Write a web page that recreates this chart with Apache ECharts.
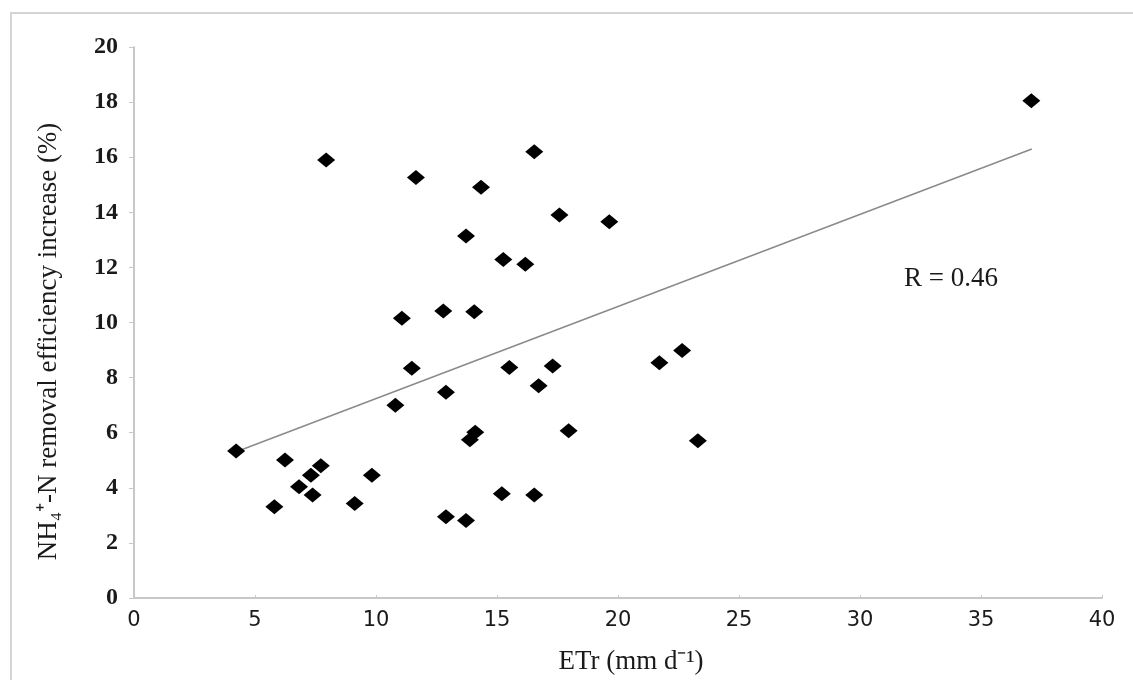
<!DOCTYPE html>
<html>
<head>
<meta charset="utf-8">
<script src="https://cdn.jsdelivr.net/npm/echarts@6/dist/echarts.min.js"></script>
<style>
html,body{margin:0;padding:0;background:#fff;}
#chart{width:1133px;height:680px;}
</style>
</head>
<body>
<div id="chart"></div>
<script>
// ETr (mm d-1) values
const etr = [4.22, 5.8, 6.24, 6.82, 7.31, 7.38, 7.72, 7.94, 9.12, 9.83, 10.8, 11.07, 11.48, 11.65, 12.78, 12.89, 12.89, 13.72, 13.72, 13.88, 14.1, 14.06, 14.34, 15.2, 15.26, 15.51, 16.17, 16.54, 16.54, 16.72, 17.3, 17.58, 17.96, 19.64, 21.71, 22.65, 23.3, 37.08];
// NH4+-N removal efficiency increase (%)
const increase = [5.34, 3.31, 5.01, 4.04, 4.46, 3.74, 4.8, 15.9, 3.43, 4.46, 7.0, 10.15, 8.34, 15.26, 10.42, 7.47, 2.95, 13.14, 2.81, 5.74, 6.02, 10.39, 14.91, 3.78, 12.29, 8.37, 12.11, 16.2, 3.74, 7.7, 8.42, 13.9, 6.07, 13.66, 8.54, 8.98, 5.71, 18.05];
// trend line endpoints
const trendX = [4.2, 37.1];
const trendY = [5.3, 16.3];
const rLabel = 'R = 0.46';
const xTitle = 'ETr (mm d⁻¹)';
const yTitle = 'NH₄⁺-N removal efficiency increase (%)';

const points = etr.map((x, i) => [x, increase[i]]);
const trend = trendX.map((x, i) => [x, trendY[i]]);

const chart = echarts.init(document.getElementById('chart'));
chart.setOption({
  animation: false,
  backgroundColor: '#fff',
  grid: {left: 134, right: 31, top: 47, bottom: 82},
  graphic: [
    {type: 'rect', shape: {x: 11, y: 13, width: 1300, height: 900},
     style: {fill: 'none', stroke: '#d4d4d4', lineWidth: 2}, silent: true, z: -1},
    {type: 'text', left: 904, top: 265,
     style: {text: rLabel, fontFamily: 'Liberation Serif', fontSize: 27, fill: '#1a1a1a'}}
  ],
  xAxis: {
    type: 'value', min: 0, max: 40, interval: 5,
    name: xTitle, nameLocation: 'middle', nameGap: 50,
    nameTextStyle: {fontFamily: 'Liberation Serif', fontSize: 27, color: '#1a1a1a', padding: [0, 0, 0, 26]},
    axisLine: {show: true, lineStyle: {color: '#c8c8c8', width: 2}},
    axisTick: {show: true, inside: true, length: 3, lineStyle: {color: '#c8c8c8'}},
    splitLine: {show: false},
    axisLabel: {fontFamily: 'DejaVu Sans', fontSize: 21, color: '#1a1a1a', margin: 12}
  },
  yAxis: {
    type: 'value', min: 0, max: 20, interval: 2,
    name: yTitle, nameLocation: 'middle', nameGap: 72, nameRotate: 90,
    nameTextStyle: {fontFamily: 'Liberation Serif', fontSize: 27, color: '#1a1a1a', padding: [0, 38, 0, 0]},
    axisLine: {show: true, lineStyle: {color: '#c8c8c8', width: 2}},
    axisTick: {show: true, length: 5, lineStyle: {color: '#c8c8c8'}},
    splitLine: {show: false},
    axisLabel: {fontFamily: 'Liberation Serif', fontWeight: 'bold', fontSize: 24, color: '#1a1a1a', margin: 16}
  },
  series: [
    {type: 'line', data: trend, symbol: 'none', lineStyle: {color: '#8a8a8a', width: 1.5}, z: 1},
    {type: 'scatter', data: points, symbol: 'diamond', symbolSize: [18, 15],
     itemStyle: {color: '#000', opacity: 1}, z: 2}
  ]
});
</script>
</body>
</html>
